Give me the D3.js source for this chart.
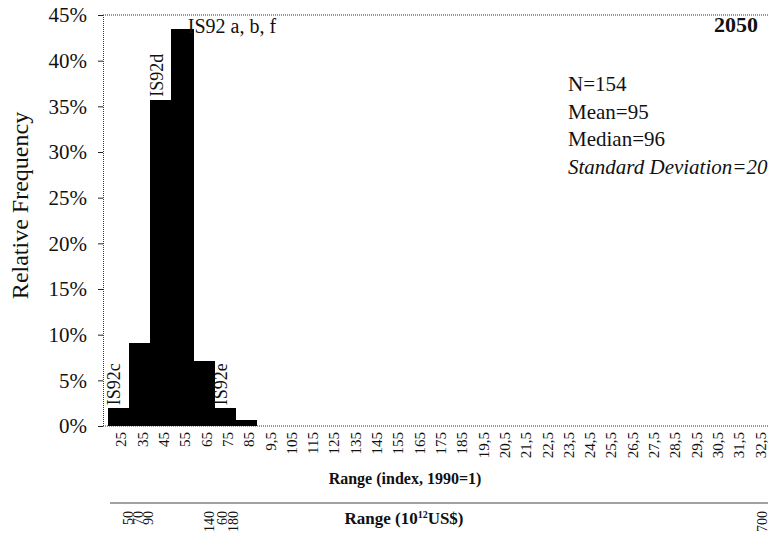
<!DOCTYPE html>
<html>
<head>
<meta charset="utf-8">
<script src="https://cdn.jsdelivr.net/npm/d3@7"></script>
<style>
  html, body { margin: 0; padding: 0; background: #fff; }
  svg { display: block; }
  text { font-family: "Liberation Serif", "Times New Roman", serif; fill: #111; }
</style>
</head>
<body>
<svg id="chart" width="771" height="539"></svg>
<script>
// ---- data ----
const binLabels = ["25","35","45","55","65","75","85","9,5","105","115","125","135","145","155","165","175","185",
  "19,5","20,5","21,5","22,5","23,5","24,5","25,5","26,5","27,5","28,5","29,5","30,5","31,5","32,5"];
const freqValues = [1.95, 9.09, 35.71, 43.51, 7.14, 1.95, 0.65];
const yTicks = [0, 5, 10, 15, 20, 25, 30, 35, 40, 45];
const usdLabels = ["50", "70", "90", "140", "60", "180", "700"];
const usdIndexPos = [2.95, 3.45, 3.9, 6.75, 7.4, 7.9, 32.7];
const annotations = [
  { bin: 0, text: "IS92c", vertical: true },
  { bin: 2, text: "IS92d", vertical: true },
  { bin: 5, text: "IS92e", vertical: true },
  { bin: 3, text: "IS92 a, b, f", vertical: false }
];
const statsLines = ["N=154", "Mean=95", "Median=96", "Standard Deviation=20"];
const yearLabel = "2050";

// ---- layout ----
const svg = d3.select("#chart");
const L = 103, T = 15, B = 426, R = 768, barL = 107.5;

const y = d3.scaleLinear().domain([0, 45]).range([B, T]);
const x = d3.scaleBand().domain(binLabels).range([barL, R]).padding(0);
const xIdx = d3.scaleLinear().domain([2, 2 + binLabels.length]).range([barL, R]);

const data = binLabels.map((b, i) => ({ bin: b, v: i < freqValues.length ? freqValues[i] : 0 }));

// top border (dotted)
svg.append("line").attr("x1", L).attr("x2", R).attr("y1", T).attr("y2", T)
  .attr("stroke", "#333").attr("stroke-width", 1).attr("stroke-dasharray", "1,1");
// bottom baseline (dotted)
svg.append("line").attr("x1", L).attr("x2", R).attr("y1", B).attr("y2", B)
  .attr("stroke", "#333").attr("stroke-width", 1).attr("stroke-dasharray", "1,1");

// y axis
const yAxis = svg.append("g").attr("transform", `translate(${L},0)`)
  .call(d3.axisLeft(y).tickValues(yTicks).tickFormat(d => d + "%").tickSize(5).tickPadding(11));
yAxis.select(".domain").attr("stroke", "#333").attr("stroke-dasharray", "1,1");
yAxis.selectAll(".tick line").attr("stroke", "#222");
yAxis.selectAll("text").style("font-family", "Liberation Serif").style("font-size", "21px").attr("fill", "#111");

// bars
svg.append("g").attr("shape-rendering", "crispEdges")
  .selectAll("rect").data(data.filter(d => d.v > 0)).join("rect")
  .attr("x", d => x(d.bin)).attr("width", x.bandwidth() + 0.8)
  .attr("y", d => y(d.v)).attr("height", d => y(0) - y(d.v))
  .attr("fill", "#000");

// x axis labels
const xAxis = svg.append("g").attr("transform", `translate(0,${B})`)
  .call(d3.axisBottom(x).tickSize(0));
xAxis.select(".domain").remove();
xAxis.selectAll("text")
  .attr("transform", "rotate(-90)")
  .attr("x", -6).attr("y", 3).attr("dy", "0.35em")
  .style("text-anchor", "end")
  .style("font-family", "Liberation Serif").style("font-size", "15px").attr("fill", "#111");

// annotations
annotations.forEach(a => {
  const d = data[a.bin];
  if (a.vertical) {
    const cx = x(d.bin) + x.bandwidth() / 2 - 4;
    const by = y(d.v) - 3;
    svg.append("text")
      .attr("transform", `translate(${cx},${by}) rotate(-90)`)
      .attr("dy", "0.35em").attr("text-anchor", "start")
      .style("font-size", "18px").text(a.text);
  } else {
    svg.append("text")
      .attr("x", x(d.bin) + x.bandwidth() - 5).attr("y", y(d.v) + 4)
      .attr("text-anchor", "start").style("font-size", "20px").text(a.text);
  }
});

// year label
svg.append("text").attr("x", 758).attr("y", 32).attr("text-anchor", "end")
  .style("font-size", "22px").style("font-weight", "bold").text(yearLabel);

// stats
statsLines.forEach((s, i) => {
  svg.append("text").attr("x", 568).attr("y", 91 + i * 27.5)
    .style("font-size", "21px").style("font-style", i === 3 ? "italic" : "normal").text(s);
});

// y title
svg.append("text").attr("transform", `translate(28,${(T + B) / 2 - 15}) rotate(-90)`)
  .attr("text-anchor", "middle").style("font-size", "24px").text("Relative Frequency");

// x title
svg.append("text").attr("x", 405).attr("y", 484).attr("text-anchor", "middle")
  .style("font-size", "16px").style("font-weight", "bold").text("Range (index, 1990=1)");

// second axis
const y2 = 503;
svg.append("line").attr("x1", 110).attr("x2", R).attr("y1", y2).attr("y2", y2)
  .attr("stroke", "#444").attr("stroke-width", 1.2);
svg.append("g").selectAll("text").data(usdLabels).join("text")
  .attr("transform", (d, i) => `translate(${xIdx(usdIndexPos[i])},${y2 + 8}) rotate(-90)`)
  .attr("dy", "0.35em").attr("text-anchor", "end")
  .style("font-size", "14px").text(d => d);

const t2 = svg.append("text").attr("x", 404).attr("y", 524).attr("text-anchor", "middle")
  .style("font-size", "17px").style("font-weight", "bold");
t2.append("tspan").text("Range (10");
t2.append("tspan").attr("dy", -6).style("font-size", "10px").text("12");
t2.append("tspan").attr("dy", 6).text("US$)");
</script>
</body>
</html>
